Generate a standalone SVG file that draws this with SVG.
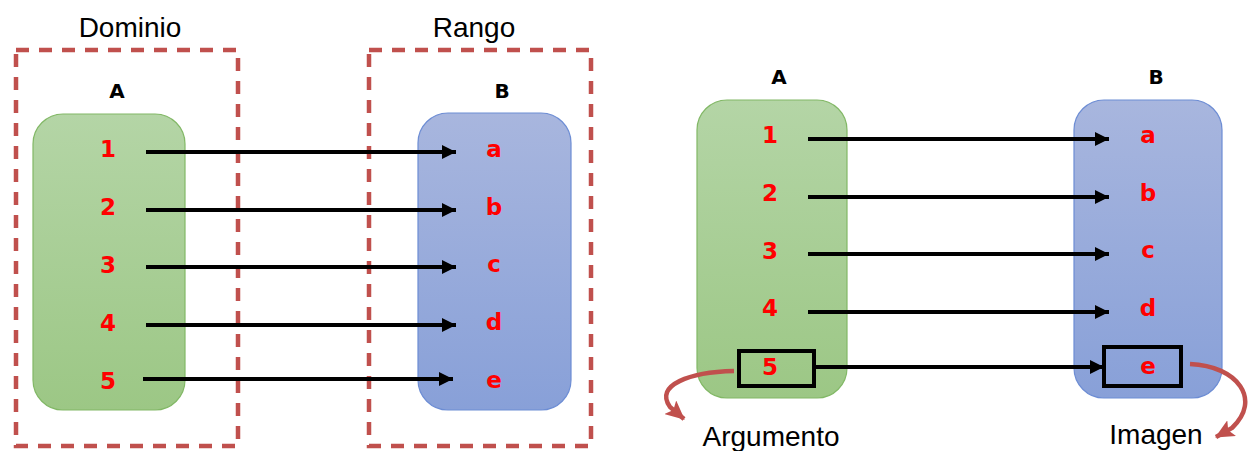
<svg xmlns="http://www.w3.org/2000/svg" width="1249" height="451" viewBox="0 0 1249 451">
<defs>
<linearGradient id="gG" x1="0" y1="0" x2="0" y2="1"><stop offset="0" stop-color="#b4d5a6"/><stop offset="1" stop-color="#9cc785"/></linearGradient>
<linearGradient id="gB" x1="0" y1="0" x2="0" y2="1"><stop offset="0" stop-color="#a8b6de"/><stop offset="1" stop-color="#88a0d8"/></linearGradient>
<marker id="ah" markerUnits="userSpaceOnUse" markerWidth="15" markerHeight="14" refX="14" refY="7" orient="auto"><path d="M0,0 L14,7 L0,14 Z" fill="#000"/></marker>
<marker id="rh" markerUnits="userSpaceOnUse" markerWidth="20" markerHeight="18" refX="18" refY="9" orient="auto"><path d="M0,0 L19,9 L0,18 L4,9 Z" fill="#c0504d"/></marker>
<style>
.dash{fill:none;stroke:#c0504d;stroke-width:4.5;stroke-dasharray:13 10}
.gbox{fill:url(#gG);stroke:#82b866;stroke-width:1.2}
.bbox{fill:url(#gB);stroke:#6d8dd4;stroke-width:1.2}
.title{font-family:"Liberation Sans",Arial,sans-serif;font-size:28px;fill:#000;text-anchor:middle}
.set{font-family:"DejaVu Sans",sans-serif;font-weight:bold;font-size:20px;fill:#000;text-anchor:middle}
.el{font-family:"DejaVu Sans",sans-serif;font-weight:bold;font-size:23px;fill:#ff0000;text-anchor:middle}
.arr{stroke:#000;stroke-width:4;fill:none;marker-end:url(#ah)}
.hl{fill:none;stroke:#000;stroke-width:4}
.curve{fill:none;stroke:#c0504d;stroke-width:4.5;marker-end:url(#rh)}
</style>
</defs>
<g id="left-domain">
<rect class="dash" x="16" y="50" width="222" height="396"/>
<text class="title" x="130" y="37">Dominio</text>
</g>
<g id="left-range">
<rect class="dash" x="369" y="50" width="222" height="396"/>
<text class="title" x="474" y="37">Rango</text>
</g>
<g id="left-A">
<text class="set" x="117" y="98">A</text>
<rect class="gbox" x="33" y="114" width="152" height="296" rx="30"/>
<text class="el" x="108" y="157">1</text>
<text class="el" x="108" y="215">2</text>
<text class="el" x="108" y="273">3</text>
<text class="el" x="108" y="331">4</text>
<text class="el" x="108" y="389">5</text>
</g>
<g id="left-B">
<text class="set" x="502" y="98">B</text>
<rect class="bbox" x="418" y="113" width="153" height="297" rx="30"/>
<text class="el" x="494" y="157">a</text>
<text class="el" x="494" y="215">b</text>
<text class="el" x="494" y="272">c</text>
<text class="el" x="494" y="330">d</text>
<text class="el" x="494" y="388">e</text>
</g>
<g id="right-A">
<text class="set" x="779" y="84">A</text>
<rect class="gbox" x="697" y="100" width="150" height="298" rx="30"/>
<text class="el" x="770" y="143">1</text>
<text class="el" x="770" y="201">2</text>
<text class="el" x="770" y="259">3</text>
<text class="el" x="770" y="316">4</text>
<text class="el" x="770" y="375">5</text>
<rect class="hl" x="739" y="351" width="75" height="35"/>
</g>
<g id="right-B">
<text class="set" x="1156" y="84">B</text>
<rect class="bbox" x="1074" y="100" width="148" height="298" rx="30"/>
<text class="el" x="1148" y="143">a</text>
<text class="el" x="1148" y="201">b</text>
<text class="el" x="1148" y="258">c</text>
<text class="el" x="1148" y="316">d</text>
<text class="el" x="1148" y="374">e</text>
<rect class="hl" x="1104" y="347" width="77" height="39"/>
</g>
<g id="labels">
<text class="title" x="771" y="446">Argumento</text>
<text class="title" x="1156" y="444">Imagen</text>
</g>
<g id="connectors">
<line class="arr" x1="146" y1="152" x2="456" y2="152"/>
<line class="arr" x1="146" y1="210" x2="456" y2="210"/>
<line class="arr" x1="146" y1="267" x2="456" y2="267"/>
<line class="arr" x1="146" y1="325" x2="456" y2="325"/>
<line class="arr" x1="143" y1="379" x2="453" y2="379"/>
<line class="arr" x1="808" y1="139" x2="1109" y2="139"/>
<line class="arr" x1="808" y1="197" x2="1109" y2="197"/>
<line class="arr" x1="808" y1="254" x2="1109" y2="254"/>
<line class="arr" x1="808" y1="312" x2="1109" y2="312"/>
<line class="arr" x1="814" y1="367" x2="1104" y2="367"/>
<path class="curve" d="M734 371 C690 372 654 385 670 407 L684 419"/>
<path class="curve" d="M1190 364 C1238 366 1262 400 1232 428 L1216 437"/>
</g>
</svg>
